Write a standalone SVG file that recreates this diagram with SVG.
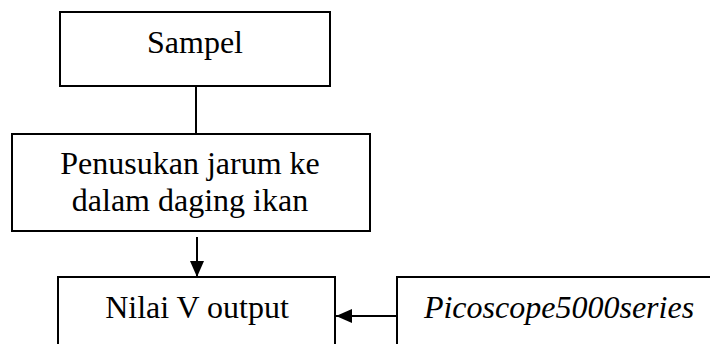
<svg xmlns="http://www.w3.org/2000/svg" width="710" height="344" viewBox="0 0 710 344">
<style>
.box{fill:#fff;stroke:#000;stroke-width:2}
.t{font-family:"Liberation Serif","Times New Roman",serif;font-size:32px;fill:#000;text-anchor:middle}
.i{font-style:italic}
.c{stroke:#000;stroke-width:2;fill:none}
</style>
<defs>
<marker id="ah" viewBox="0 0 16 14" refX="16" refY="7" markerWidth="16" markerHeight="14" markerUnits="userSpaceOnUse" orient="auto">
<path d="M0,0 L16,7 L0,14 Z" fill="#000"/>
</marker>
</defs>
<rect width="710" height="344" fill="#fff"/>
<g id="connectors">
<line class="c" x1="196" y1="86" x2="196" y2="134"/>
<line class="c" x1="197" y1="237" x2="197" y2="277" marker-end="url(#ah)"/>
<line class="c" x1="397" y1="316" x2="336" y2="316" marker-end="url(#ah)"/>
</g>
<g id="sampel">
<rect class="box" x="60" y="12" width="270" height="74"/>
<text class="t" x="195" y="53">Sampel</text>
</g>
<g id="penusukan">
<rect class="box" x="12" y="134" width="358" height="97"/>
<text class="t" x="190" y="174">Penusukan jarum ke</text>
<text class="t" x="190" y="211">dalam daging ikan</text>
</g>
<g id="nilai">
<rect class="box" x="58" y="277" width="277" height="80"/>
<text class="t" x="197" y="318">Nilai V output</text>
</g>
<g id="picoscope">
<rect class="box" x="397" y="277" width="330" height="80"/>
<text class="t i" x="559" y="318">Picoscope5000series</text>
</g>
</svg>
